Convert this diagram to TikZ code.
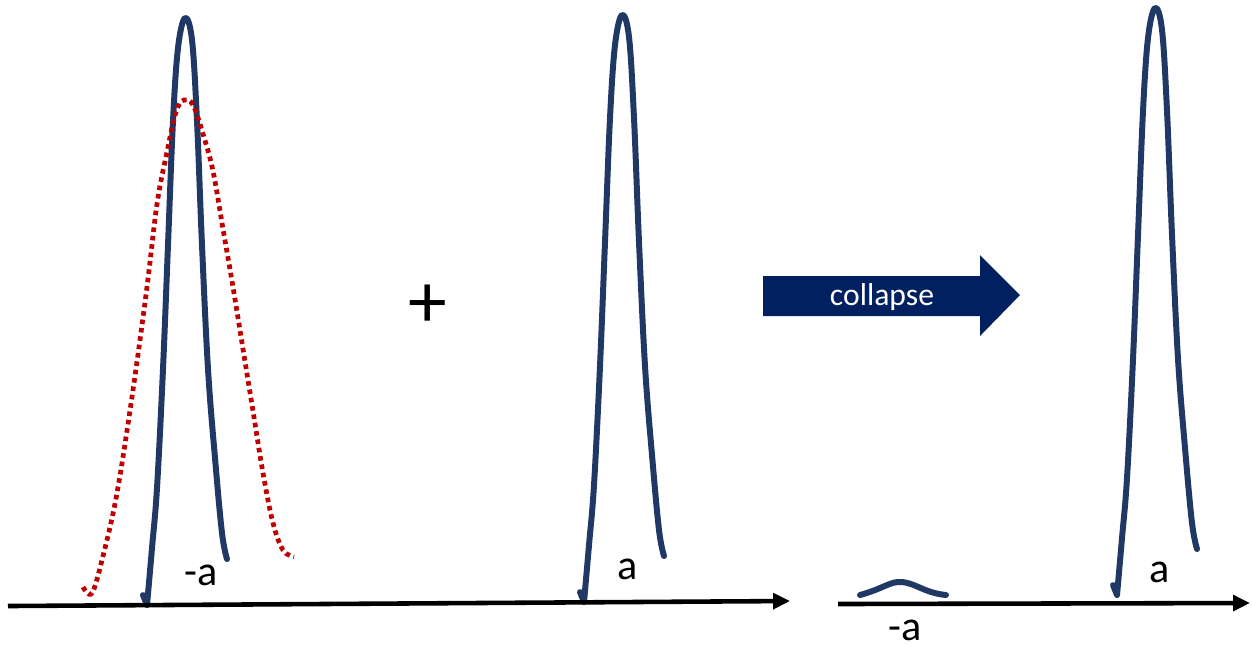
\documentclass[tikz,border=0pt]{standalone}
\usepackage{fontspec}
\setmainfont{Carlito}
\usepackage{tikz}
\usetikzlibrary{arrows.meta, positioning, calc}
\definecolor{PeakBlue}{HTML}{1F3864}
\definecolor{ArrowNavy}{HTML}{002060}
\definecolor{WideRed}{HTML}{C00000}

\begin{document}
\begin{tikzpicture}[
        x=0.01cm, y=-0.01cm, font=\fontsize{12pt}{14pt}\selectfont,
        peak/.style={PeakBlue, line width=1.7pt, line cap=round, line join=round},
        wide/.style={WideRed, line width=1.35pt, dash pattern=on 1.3pt off 1.1pt},
        axis/.style={black, line width=1.3pt, -{Triangle[length=4.8pt, width=4.4pt]}},
        lbl/.style={inner sep=0pt},
      ]
        \useasboundingbox (0,0) rectangle (1252,647);
        % narrow peaks (top at \px,\py)
        \foreach \px/\py in {185/18, 622/15, 1155/8} {
          \draw[peak, shift={(\px,\py)}] (-42,577) -- plot[smooth, tension=0.6] coordinates
            {(-38,587) (-33,530) (-28,470) (-22,351) (-17,227) (-12,103) (-7,30) (0,0)
             (7,22) (12,103) (17,227) (23,351) (30,440) (37,515) (42,541)};
        }
        % wide dotted peak around -a
        \draw[wide] plot[smooth, tension=0.6] coordinates
          {(83,587) (92,593) (103,556) (117,493) (133,390) (147,287) (157,204) (167,152)
           (176,112) (184,100) (193,105) (203,134) (213,171) (223,229) (233,287)
           (243,349) (253,411) (263,473) (273,523) (283,550) (294,557)};
        % left axis
        \coordinate (axLs) at (8,606);
        \coordinate (axLe) at (790,601);
        \draw[axis] (axLs) -- (axLe);
        \node[lbl] (minusA) at (201,575) {-a};
        \node[lbl, font=\fontsize{22pt}{24pt}\selectfont] (plus) at (428,306) {+};
        \node[lbl] (plusA) at (628,569) {a};
        % collapse arrow
        \fill[ArrowNavy] (763,276) -- (980,276) -- (980,255) -- (1020,295)
          -- (980,336) -- (980,316) -- (763,316) -- cycle;
        \node[lbl, text=white, font=\fontsize{9pt}{11pt}\selectfont] (collapse) at (882,297) {collapse};
        % right axis
        \coordinate (axRs) at (838,604);
        \coordinate (axRe) at (1250,603);
        \draw[axis] (axRs) -- (axRe);
        \draw[peak] (860,595) .. controls (885,588) and (890,581) .. (902,582)
          .. controls (915,583) and (925,593) .. (946,595);
        \node[lbl] (minusAR) at (905,630) {-a};
        \node[lbl] (plusAR) at (1160,572) {a};
      \end{tikzpicture}
\end{document}
